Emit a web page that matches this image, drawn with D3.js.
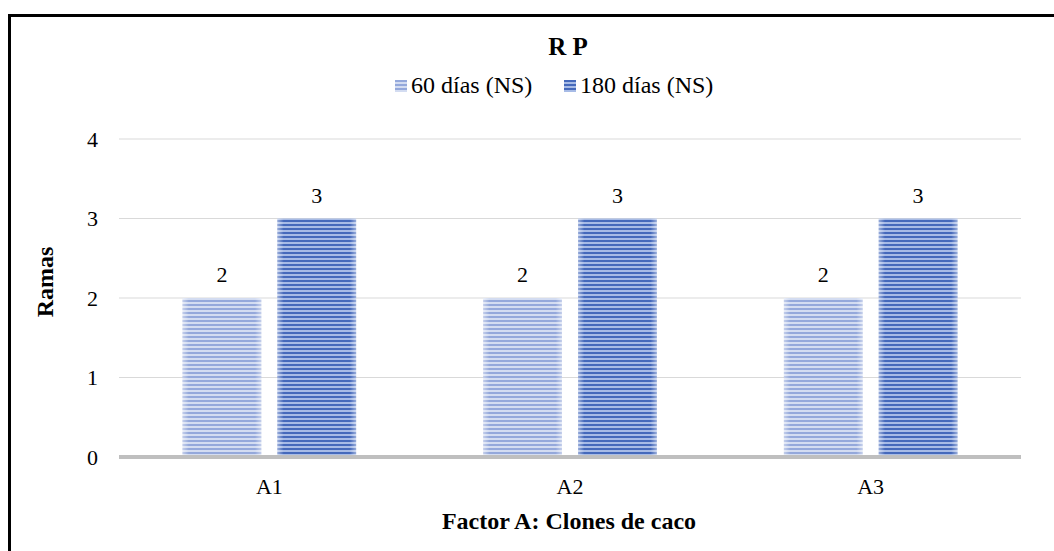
<!DOCTYPE html>
<html>
<head>
<meta charset="utf-8">
<script src="https://cdn.jsdelivr.net/npm/d3@7"></script>
<style>
  html, body { margin: 0; padding: 0; background: #fff; }
  svg { display: block; }
  text { font-family: "Liberation Serif", "Times New Roman", serif; fill: #000; }
</style>
</head>
<body>
<svg id="chart" width="1054" height="551"></svg>
<script>
// Mean number of branches per clone at two evaluation dates
const categories = ["A1", "A2", "A3"];
const seriesNames = ["60 días (NS)", "180 días (NS)"];
const values60 = [2, 2, 2];
const values180 = [3, 3, 3];
const yTicks = [0, 1, 2, 3, 4];

const W = 1054, H = 551;
const margin = { left: 119, right: 33, top: 139, bottom: 94 };
const svg = d3.select("#chart");

// stripe fills
const defs = svg.append("defs");
const fills = [
  { id: "s60", dark: "#94a8db", light: "#d3dcf1" },
  { id: "s180", dark: "#4569bb", light: "#a7bbe6" }
];
fills.forEach(f => {
  const p = defs.append("pattern").attr("id", f.id)
    .attr("patternUnits", "userSpaceOnUse").attr("width", 8).attr("height", 4);
  p.append("rect").attr("width", 8).attr("height", 4).attr("fill", f.light);
  p.append("rect").attr("y", 0).attr("width", 8).attr("height", 2).attr("fill", f.dark);
});
const edge = defs.append("linearGradient").attr("id", "edgeGlow")
  .attr("x1", "0%").attr("x2", "100%").attr("y1", "0%").attr("y2", "0%");
[[0, 0.45], [0.08, 0.0], [0.92, 0.0], [1, 0.45]].forEach(([o, a]) =>
  edge.append("stop").attr("offset", o).attr("stop-color", "#fff").attr("stop-opacity", a));

// outer frame (right and bottom edges fall outside the view)
svg.append("rect").attr("x", 9.5).attr("y", 15.5).attr("width", 1060).attr("height", 560)
  .attr("fill", "none").attr("stroke", "#000").attr("stroke-width", 3);

const x0 = d3.scaleBand().domain(categories).range([margin.left, W - margin.right]);
const x1 = d3.scaleBand().domain(seriesNames).range([0, x0.bandwidth()])
  .paddingInner(0.17).paddingOuter(0.67);
const y = d3.scaleLinear().domain([0, 4]).range([H - margin.bottom, margin.top]);

// gridlines
svg.append("g").selectAll("line").data(yTicks.slice(1)).join("line")
  .attr("x1", margin.left).attr("x2", W - margin.right)
  .attr("y1", d => y(d)).attr("y2", d => y(d))
  .attr("stroke", "#d9d9d9").attr("stroke-width", 1);

// y tick labels
svg.append("g").selectAll("text").data(yTicks).join("text")
  .attr("x", 98).attr("y", d => y(d)).attr("dy", "0.35em")
  .attr("text-anchor", "end").attr("font-size", 22).text(d => d);

// bars
const data = categories.map((c, i) => ({ c, vals: [values60[i], values180[i]] }));
const groups = svg.append("g").selectAll("g").data(data).join("g")
  .attr("transform", d => `translate(${x0(d.c)},0)`);
groups.each(function (d) {
  const g = d3.select(this);
  d.vals.forEach((v, j) => {
    const bx = x1(seriesNames[j]);
    g.append("rect").attr("x", bx).attr("y", y(v))
      .attr("width", x1.bandwidth()).attr("height", y(0) - y(v))
      .attr("fill", `url(#${fills[j].id})`);
    g.append("rect").attr("x", bx).attr("y", y(v))
      .attr("width", x1.bandwidth()).attr("height", y(0) - y(v))
      .attr("fill", "url(#edgeGlow)");
    g.append("text").attr("x", bx + x1.bandwidth() / 2).attr("y", y(v) - 16)
      .attr("text-anchor", "middle").attr("font-size", 22).text(v);
  });
});

// baseline
svg.append("line").attr("x1", margin.left).attr("x2", W - margin.right)
  .attr("y1", y(0)).attr("y2", y(0)).attr("stroke", "#bfbfbf").attr("stroke-width", 4);

// category labels
svg.append("g").selectAll("text").data(categories).join("text")
  .attr("x", d => x0(d) + x0.bandwidth() / 2).attr("y", 494)
  .attr("text-anchor", "middle").attr("font-size", 22).text(d => d);

// title
svg.append("text").attr("x", 568).attr("y", 55).attr("text-anchor", "middle")
  .attr("font-size", 25).attr("font-weight", "bold").text("R P");

// legend
const legendItems = [
  { name: seriesNames[0], x: 395, fill: fills[0].id },
  { name: seriesNames[1], x: 564, fill: fills[1].id }
];
const lg = svg.append("g").selectAll("g").data(legendItems).join("g")
  .attr("transform", d => `translate(${d.x},0)`);
lg.append("rect").attr("x", 0).attr("y", 80).attr("width", 12).attr("height", 12)
  .attr("fill", d => `url(#${d.fill})`);
lg.append("text").attr("x", 16).attr("y", 93).attr("font-size", 24).text(d => d.name);

// axis titles
svg.append("text").attr("transform", `translate(53,282) rotate(-90)`)
  .attr("text-anchor", "middle").attr("font-size", 24).attr("font-weight", "bold").text("Ramas");
svg.append("text").attr("x", 569).attr("y", 529).attr("text-anchor", "middle")
  .attr("font-size", 24).attr("font-weight", "bold").text("Factor A: Clones de caco");
</script>
</body>
</html>
